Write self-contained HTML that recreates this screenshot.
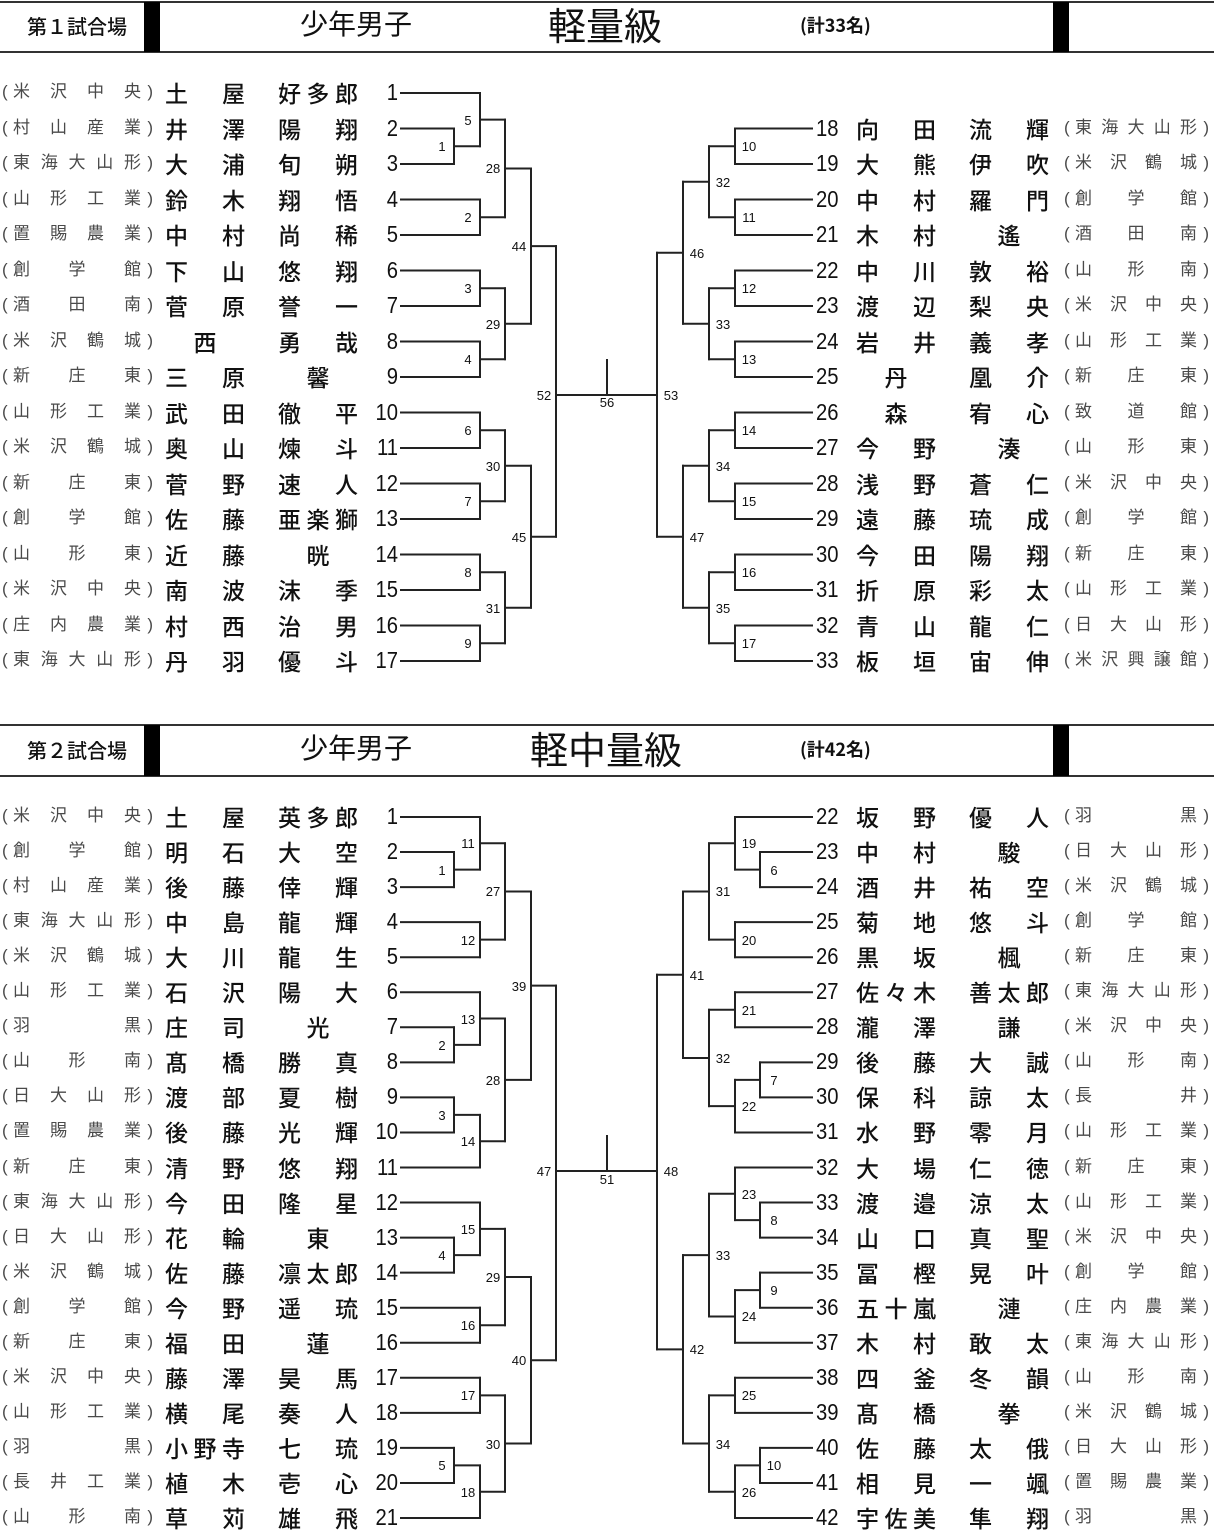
<!DOCTYPE html>
<html><head><meta charset="utf-8">
<style>
html,body{margin:0;padding:0;background:#fff}
body{width:1214px;height:1536px;position:relative;overflow:hidden;font-family:"Liberation Sans","Noto Sans CJK JP",sans-serif;color:#111}
svg{position:absolute;left:0;top:0}
.row{position:absolute;left:0;width:1214px;height:26px}
.row p{position:absolute;top:0;margin:0;height:26px;line-height:26px;display:flex;justify-content:space-between;white-space:nowrap}
.row p span:only-child{margin:0 auto}
.s{font-size:17px;color:#4a4a4a}
.s .p1{position:absolute;left:-11px}
.s .p2{position:absolute;right:-12px}
.a,.g{font-size:23px;font-family:"Noto Sans CJK JP",sans-serif;font-weight:500;color:#111}
.n{font-size:23px;display:block!important}
.L .s{left:13px;width:128px}
.L .a{left:165px;width:80px}
.L .g{left:278px;width:80px}
.L .n{left:356px;width:42px;text-align:right;transform:scaleX(.88);transform-origin:right center}
.R .n{left:816px;width:40px;text-align:left;transform:scaleX(.88);transform-origin:left center}
.R .a{left:856px;width:80px}
.R .g{left:969px;width:80px}
.R .s{left:1075px;width:122px}
.mn{position:absolute;font-size:13px;transform:translate(-50%,-50%);line-height:14px;background:transparent}
.hd{position:absolute;white-space:nowrap;font-family:"Liberation Sans","Noto Sans CJK JP",sans-serif}
.cj{font-family:"Noto Sans CJK JP",sans-serif}
</style></head><body>
<svg id="lines" width="1214" height="1536">
<line x1="0" y1="2" x2="1214" y2="2" stroke="#333" stroke-width="2"/>
<line x1="0" y1="52" x2="1214" y2="52" stroke="#333" stroke-width="2"/>
<rect x="144" y="2" width="16" height="50" fill="#000"/>
<rect x="1053" y="2" width="16" height="50" fill="#000"/>
<line x1="0" y1="725" x2="1214" y2="725" stroke="#333" stroke-width="2"/>
<line x1="0" y1="776" x2="1214" y2="776" stroke="#333" stroke-width="2"/>
<rect x="144" y="725" width="16" height="51" fill="#000"/>
<rect x="1053" y="725" width="16" height="51" fill="#000"/>
</svg>
<div class="hd cj" style="left:27px;top:11px;font-size:20px;font-weight:500">第１試合場</div>
<div class="hd cj" style="left:300px;top:3px;font-size:28px">少年男子</div>
<div class="hd cj" style="left:548px;top:-4px;font-size:38px">軽量級</div>
<div class="hd cj" style="left:800px;top:12px;font-size:18px;font-weight:bold">(計33名)</div>
<div class="hd cj" style="left:27px;top:735px;font-size:20px;font-weight:500">第２試合場</div>
<div class="hd cj" style="left:300px;top:727px;font-size:28px">少年男子</div>
<div class="hd cj" style="left:530px;top:720px;font-size:38px">軽中量級</div>
<div class="hd cj" style="left:800px;top:736px;font-size:18px;font-weight:bold">(計42名)</div>

<div id="s1L">
<div class="row L"><p class="s">(米沢中央)</p><p class="a">土屋</p><p class="g">好多郎</p><p class="n">1</p></div>
<div class="row L"><p class="s">(村山産業)</p><p class="a">井澤</p><p class="g">陽翔</p><p class="n">2</p></div>
<div class="row L"><p class="s">(東海大山形)</p><p class="a">大浦</p><p class="g">旬朔</p><p class="n">3</p></div>
<div class="row L"><p class="s">(山形工業)</p><p class="a">鈴木</p><p class="g">翔悟</p><p class="n">4</p></div>
<div class="row L"><p class="s">(置賜農業)</p><p class="a">中村</p><p class="g">尚稀</p><p class="n">5</p></div>
<div class="row L"><p class="s">(創学館)</p><p class="a">下山</p><p class="g">悠翔</p><p class="n">6</p></div>
<div class="row L"><p class="s">(酒田南)</p><p class="a">菅原</p><p class="g">誉一</p><p class="n">7</p></div>
<div class="row L"><p class="s">(米沢鶴城)</p><p class="a">西</p><p class="g">勇哉</p><p class="n">8</p></div>
<div class="row L"><p class="s">(新庄東)</p><p class="a">三原</p><p class="g">馨</p><p class="n">9</p></div>
<div class="row L"><p class="s">(山形工業)</p><p class="a">武田</p><p class="g">徹平</p><p class="n">10</p></div>
<div class="row L"><p class="s">(米沢鶴城)</p><p class="a">奥山</p><p class="g">煉斗</p><p class="n">11</p></div>
<div class="row L"><p class="s">(新庄東)</p><p class="a">菅野</p><p class="g">速人</p><p class="n">12</p></div>
<div class="row L"><p class="s">(創学館)</p><p class="a">佐藤</p><p class="g">亜楽獅</p><p class="n">13</p></div>
<div class="row L"><p class="s">(山形東)</p><p class="a">近藤</p><p class="g">晄</p><p class="n">14</p></div>
<div class="row L"><p class="s">(米沢中央)</p><p class="a">南波</p><p class="g">沫季</p><p class="n">15</p></div>
<div class="row L"><p class="s">(庄内農業)</p><p class="a">村西</p><p class="g">治男</p><p class="n">16</p></div>
<div class="row L"><p class="s">(東海大山形)</p><p class="a">丹羽</p><p class="g">優斗</p><p class="n">17</p></div>
</div>
<div id="s1R">
<div class="row R"><p class="n">18</p><p class="a">向田</p><p class="g">流輝</p><p class="s">(東海大山形)</p></div>
<div class="row R"><p class="n">19</p><p class="a">大熊</p><p class="g">伊吹</p><p class="s">(米沢鶴城)</p></div>
<div class="row R"><p class="n">20</p><p class="a">中村</p><p class="g">羅門</p><p class="s">(創学館)</p></div>
<div class="row R"><p class="n">21</p><p class="a">木村</p><p class="g">遙</p><p class="s">(酒田南)</p></div>
<div class="row R"><p class="n">22</p><p class="a">中川</p><p class="g">敦裕</p><p class="s">(山形南)</p></div>
<div class="row R"><p class="n">23</p><p class="a">渡辺</p><p class="g">梨央</p><p class="s">(米沢中央)</p></div>
<div class="row R"><p class="n">24</p><p class="a">岩井</p><p class="g">義孝</p><p class="s">(山形工業)</p></div>
<div class="row R"><p class="n">25</p><p class="a">丹</p><p class="g">凰介</p><p class="s">(新庄東)</p></div>
<div class="row R"><p class="n">26</p><p class="a">森</p><p class="g">宥心</p><p class="s">(致道館)</p></div>
<div class="row R"><p class="n">27</p><p class="a">今野</p><p class="g">湊</p><p class="s">(山形東)</p></div>
<div class="row R"><p class="n">28</p><p class="a">浅野</p><p class="g">蒼仁</p><p class="s">(米沢中央)</p></div>
<div class="row R"><p class="n">29</p><p class="a">遠藤</p><p class="g">琉成</p><p class="s">(創学館)</p></div>
<div class="row R"><p class="n">30</p><p class="a">今田</p><p class="g">陽翔</p><p class="s">(新庄東)</p></div>
<div class="row R"><p class="n">31</p><p class="a">折原</p><p class="g">彩太</p><p class="s">(山形工業)</p></div>
<div class="row R"><p class="n">32</p><p class="a">青山</p><p class="g">龍仁</p><p class="s">(日大山形)</p></div>
<div class="row R"><p class="n">33</p><p class="a">板垣</p><p class="g">宙伸</p><p class="s">(米沢興譲館)</p></div>
</div>
<div id="s2L">
<div class="row L"><p class="s">(米沢中央)</p><p class="a">土屋</p><p class="g">英多郎</p><p class="n">1</p></div>
<div class="row L"><p class="s">(創学館)</p><p class="a">明石</p><p class="g">大空</p><p class="n">2</p></div>
<div class="row L"><p class="s">(村山産業)</p><p class="a">後藤</p><p class="g">倖輝</p><p class="n">3</p></div>
<div class="row L"><p class="s">(東海大山形)</p><p class="a">中島</p><p class="g">龍輝</p><p class="n">4</p></div>
<div class="row L"><p class="s">(米沢鶴城)</p><p class="a">大川</p><p class="g">龍生</p><p class="n">5</p></div>
<div class="row L"><p class="s">(山形工業)</p><p class="a">石沢</p><p class="g">陽大</p><p class="n">6</p></div>
<div class="row L"><p class="s">(羽黒)</p><p class="a">庄司</p><p class="g">光</p><p class="n">7</p></div>
<div class="row L"><p class="s">(山形南)</p><p class="a">髙橋</p><p class="g">勝真</p><p class="n">8</p></div>
<div class="row L"><p class="s">(日大山形)</p><p class="a">渡部</p><p class="g">夏樹</p><p class="n">9</p></div>
<div class="row L"><p class="s">(置賜農業)</p><p class="a">後藤</p><p class="g">光輝</p><p class="n">10</p></div>
<div class="row L"><p class="s">(新庄東)</p><p class="a">清野</p><p class="g">悠翔</p><p class="n">11</p></div>
<div class="row L"><p class="s">(東海大山形)</p><p class="a">今田</p><p class="g">隆星</p><p class="n">12</p></div>
<div class="row L"><p class="s">(日大山形)</p><p class="a">花輪</p><p class="g">東</p><p class="n">13</p></div>
<div class="row L"><p class="s">(米沢鶴城)</p><p class="a">佐藤</p><p class="g">凛太郎</p><p class="n">14</p></div>
<div class="row L"><p class="s">(創学館)</p><p class="a">今野</p><p class="g">遥琉</p><p class="n">15</p></div>
<div class="row L"><p class="s">(新庄東)</p><p class="a">福田</p><p class="g">蓮</p><p class="n">16</p></div>
<div class="row L"><p class="s">(米沢中央)</p><p class="a">藤澤</p><p class="g">昊馬</p><p class="n">17</p></div>
<div class="row L"><p class="s">(山形工業)</p><p class="a">横尾</p><p class="g">奏人</p><p class="n">18</p></div>
<div class="row L"><p class="s">(羽黒)</p><p class="a">小野寺</p><p class="g">七琉</p><p class="n">19</p></div>
<div class="row L"><p class="s">(長井工業)</p><p class="a">植木</p><p class="g">壱心</p><p class="n">20</p></div>
<div class="row L"><p class="s">(山形南)</p><p class="a">草苅</p><p class="g">雄飛</p><p class="n">21</p></div>
</div>
<div id="s2R">
<div class="row R"><p class="n">22</p><p class="a">坂野</p><p class="g">優人</p><p class="s">(羽黒)</p></div>
<div class="row R"><p class="n">23</p><p class="a">中村</p><p class="g">駿</p><p class="s">(日大山形)</p></div>
<div class="row R"><p class="n">24</p><p class="a">酒井</p><p class="g">祐空</p><p class="s">(米沢鶴城)</p></div>
<div class="row R"><p class="n">25</p><p class="a">菊地</p><p class="g">悠斗</p><p class="s">(創学館)</p></div>
<div class="row R"><p class="n">26</p><p class="a">黒坂</p><p class="g">楓</p><p class="s">(新庄東)</p></div>
<div class="row R"><p class="n">27</p><p class="a">佐々木</p><p class="g">善太郎</p><p class="s">(東海大山形)</p></div>
<div class="row R"><p class="n">28</p><p class="a">瀧澤</p><p class="g">謙</p><p class="s">(米沢中央)</p></div>
<div class="row R"><p class="n">29</p><p class="a">後藤</p><p class="g">大誠</p><p class="s">(山形南)</p></div>
<div class="row R"><p class="n">30</p><p class="a">保科</p><p class="g">諒太</p><p class="s">(長井)</p></div>
<div class="row R"><p class="n">31</p><p class="a">水野</p><p class="g">零月</p><p class="s">(山形工業)</p></div>
<div class="row R"><p class="n">32</p><p class="a">大場</p><p class="g">仁徳</p><p class="s">(新庄東)</p></div>
<div class="row R"><p class="n">33</p><p class="a">渡邉</p><p class="g">涼太</p><p class="s">(山形工業)</p></div>
<div class="row R"><p class="n">34</p><p class="a">山口</p><p class="g">真聖</p><p class="s">(米沢中央)</p></div>
<div class="row R"><p class="n">35</p><p class="a">冨樫</p><p class="g">晃叶</p><p class="s">(創学館)</p></div>
<div class="row R"><p class="n">36</p><p class="a">五十嵐</p><p class="g">漣</p><p class="s">(庄内農業)</p></div>
<div class="row R"><p class="n">37</p><p class="a">木村</p><p class="g">敢太</p><p class="s">(東海大山形)</p></div>
<div class="row R"><p class="n">38</p><p class="a">四釜</p><p class="g">冬韻</p><p class="s">(山形南)</p></div>
<div class="row R"><p class="n">39</p><p class="a">髙橋</p><p class="g">拳</p><p class="s">(米沢鶴城)</p></div>
<div class="row R"><p class="n">40</p><p class="a">佐藤</p><p class="g">太俄</p><p class="s">(日大山形)</p></div>
<div class="row R"><p class="n">41</p><p class="a">相見</p><p class="g">一颯</p><p class="s">(置賜農業)</p></div>
<div class="row R"><p class="n">42</p><p class="a">宇佐美</p><p class="g">隼翔</p><p class="s">(羽黒)</p></div>
</div>

<div id="m1">
<span class="mn" id="a1">1</span><span class="mn" id="a2">2</span><span class="mn" id="a3">3</span><span class="mn" id="a4">4</span><span class="mn" id="a5">5</span><span class="mn" id="a6">6</span><span class="mn" id="a7">7</span><span class="mn" id="a8">8</span><span class="mn" id="a9">9</span><span class="mn" id="a10">10</span><span class="mn" id="a11">11</span><span class="mn" id="a12">12</span><span class="mn" id="a13">13</span><span class="mn" id="a14">14</span><span class="mn" id="a15">15</span><span class="mn" id="a16">16</span><span class="mn" id="a17">17</span><span class="mn" id="a28">28</span><span class="mn" id="a29">29</span><span class="mn" id="a30">30</span><span class="mn" id="a31">31</span><span class="mn" id="a32">32</span><span class="mn" id="a33">33</span><span class="mn" id="a34">34</span><span class="mn" id="a35">35</span><span class="mn" id="a44">44</span><span class="mn" id="a45">45</span><span class="mn" id="a46">46</span><span class="mn" id="a47">47</span><span class="mn" id="a52">52</span><span class="mn" id="a53">53</span>
<span class="mn" style="left:607px;top:403px">56</span>
</div>
<div id="m2">
<span class="mn" id="b1">1</span><span class="mn" id="b2">2</span><span class="mn" id="b3">3</span><span class="mn" id="b4">4</span><span class="mn" id="b5">5</span><span class="mn" id="b6">6</span><span class="mn" id="b7">7</span><span class="mn" id="b8">8</span><span class="mn" id="b9">9</span><span class="mn" id="b10">10</span><span class="mn" id="b11">11</span><span class="mn" id="b12">12</span><span class="mn" id="b13">13</span><span class="mn" id="b14">14</span><span class="mn" id="b15">15</span><span class="mn" id="b16">16</span><span class="mn" id="b17">17</span><span class="mn" id="b18">18</span><span class="mn" id="b19">19</span><span class="mn" id="b20">20</span><span class="mn" id="b21">21</span><span class="mn" id="b22">22</span><span class="mn" id="b23">23</span><span class="mn" id="b24">24</span><span class="mn" id="b25">25</span><span class="mn" id="b26">26</span><span class="mn" id="b27">27</span><span class="mn" id="b28">28</span><span class="mn" id="b29">29</span><span class="mn" id="b30">30</span><span class="mn" id="b31">31</span><span class="mn" id="b32">32</span><span class="mn" id="b33">33</span><span class="mn" id="b34">34</span><span class="mn" id="b39">39</span><span class="mn" id="b40">40</span><span class="mn" id="b41">41</span><span class="mn" id="b42">42</span><span class="mn" id="b47">47</span><span class="mn" id="b48">48</span>
<span class="mn" style="left:607px;top:1180px">51</span>
</div>

<script>
(function(){
  document.querySelectorAll('.row p.s, .row p.a, .row p.g').forEach(function(p){
    var t=p.textContent; p.textContent='';
    Array.from(t).forEach(function(c,i,arr){
      var s=document.createElement('span'); s.textContent=c;
      if(c==='(' && i===0) s.className='p1';
      else if(c===')' && i===arr.length-1) s.className='p2';
      p.appendChild(s);
    });
  });
  function place(id,y0,step){
    document.querySelectorAll('#'+id+' .row').forEach(function(e,i){e.style.top=(y0+i*step-14)+'px';});
  }
  place('s1L',93,35.5); place('s1R',128.5,35.5);
  place('s2L',817,35.05); place('s2R',817,35.05);
  var svg=document.getElementById('lines'), NS='http://www.w3.org/2000/svg';
  function ln(x1,y1,x2,y2){var l=document.createElementNS(NS,'line');
    l.setAttribute('x1',x1);l.setAttribute('y1',y1);l.setAttribute('x2',x2);l.setAttribute('y2',y2);
    l.setAttribute('stroke','#222');l.setAttribute('stroke-width','2');l.setAttribute('stroke-linecap','square');svg.appendChild(l);}
  function draw(node,cfg){
    if(typeof node==='number') return {y:cfg.row(node),x:cfg.start};
    var A=draw(node[2],cfg),B=draw(node[3],cfg),vx=cfg.xs[node[1]];
    ln(A.x,A.y,vx,A.y); ln(B.x,B.y,vx,B.y); ln(vx,A.y,vx,B.y);
    var y=(node[4]!==undefined)?node[4]:(A.y+B.y)/2;
    var el=document.getElementById(cfg.p+node[0]);
    if(el){el.style.left=(vx+cfg.lo)+'px';el.style.top=(y+cfg.to)+'px';}
    return {y:y,x:vx};
  }
  var XL=[454,480,505,531,556], XR=[760,735,709,683,657];
  var t1L=[52,4,[44,3,[28,2,[5,1,1,[1,0,2,3]],[2,1,4,5]],[29,2,[3,1,6,7],[4,1,8,9]]],[45,3,[30,2,[6,1,10,11],[7,1,12,13]],[31,2,[8,1,14,15],[9,1,16,17]]],395];
  var t1R=[53,4,[46,3,[32,2,[10,1,18,19],[11,1,20,21]],[33,2,[12,1,22,23],[13,1,24,25]]],[47,3,[34,2,[14,1,26,27],[15,1,28,29]],[35,2,[16,1,30,31],[17,1,32,33]]],395];
  var t2L=[47,4,[39,3,[27,2,[11,1,1,[1,0,2,3]],[12,1,4,5]],[28,2,[13,1,6,[2,0,7,8]],[14,1,[3,0,9,10],11]]],[40,3,[29,2,[15,1,12,[4,0,13,14]],[16,1,15,16]],[30,2,[17,1,17,18],[18,1,[5,0,19,20],21]]],1171];
  var t2R=[48,4,[41,3,[31,2,[19,1,22,[6,0,23,24]],[20,1,25,26]],[32,2,[21,1,27,28],[22,1,[7,0,29,30],31]]],[42,3,[33,2,[23,1,32,[8,0,33,34]],[24,1,[9,0,35,36],37]],[34,2,[25,1,38,39],[26,1,[10,0,40,41],42]]],1171];
  draw(t1L,{row:function(i){return 93+(i-1)*35.5},start:401,xs:XL,p:'a',lo:-12,to:1});
  draw(t1R,{row:function(i){return 128.5+(i-18)*35.5},start:812,xs:XR,p:'a',lo:14,to:1});
  draw(t2L,{row:function(i){return 817+(i-1)*35.05},start:401,xs:XL,p:'b',lo:-12,to:1});
  draw(t2R,{row:function(i){return 817+(i-22)*35.05},start:812,xs:XR,p:'b',lo:14,to:1});
  ln(556,395,657,395); ln(607,360,607,395);
  ln(556,1171,657,1171); ln(607,1136,607,1171);
})();
</script>
</body></html>
